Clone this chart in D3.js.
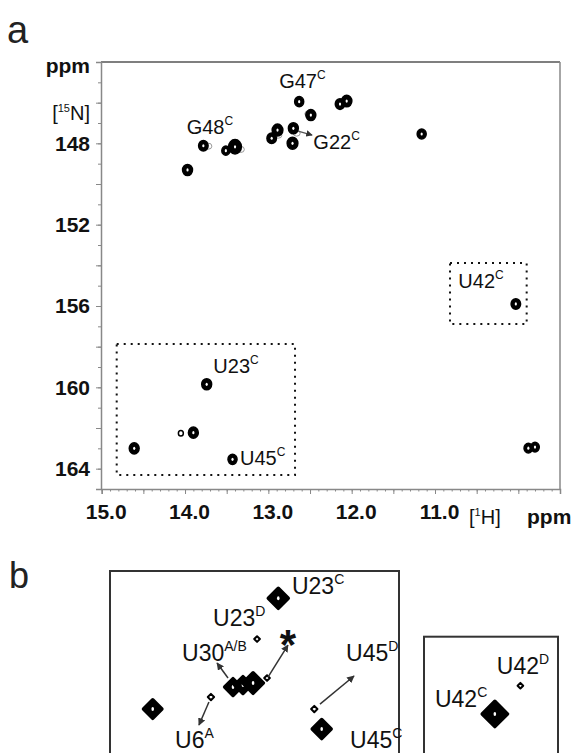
<!DOCTYPE html>
<html>
<head>
<meta charset="utf-8">
<script src="https://cdn.jsdelivr.net/npm/d3@7"></script>
<style>
  body { margin: 0; background: #fff; }
  svg { font-family: "Liberation Sans", Arial, sans-serif; }
</style>
</head>
<body>
<svg id="fig" width="573" height="753"></svg>
<script>
// ---- panel a: imino 1H-15N cross peaks (ppm) ----
var peakH   = [13.97, 13.78, 13.51, 13.40, 12.96, 12.89, 12.70, 12.71, 12.49, 12.63, 12.14, 12.06, 11.16, 10.03, 9.88, 9.80, 13.74, 13.90, 14.05, 14.61, 13.43];
var peakN   = [149.31, 148.12, 148.36, 148.17, 147.75, 147.35, 147.26, 148.00, 146.61, 145.95, 146.07, 145.92, 147.54, 155.90, 162.99, 162.94, 159.85, 162.23, 162.26, 163.00, 163.54];
var peakInt = [0.6, 0.55, 0.4, 1.0, 0.55, 0.7, 0.6, 0.7, 0.6, 0.5, 0.55, 0.65, 0.5, 0.55, 0.45, 0.45, 0.6, 0.6, 0.15, 0.6, 0.5];
// weak grey shoulders
var shoulderH = [13.72, 13.33, 12.88, 12.66, 12.52];
var shoulderN = [148.14, 148.30, 147.60, 147.50, 146.55];

// assignments in panel a
var labA      = ["G48", "G47", "G22", "U42", "U23", "U45"];
var labAChain = ["C", "C", "C", "C", "C", "C"];
var labAH     = [13.98, 12.87, 12.46, 10.72, 13.66, 13.34];
var labAN     = [147.54, 145.28, 148.28, 155.12, 159.30, 163.82];

// dotted boxes (ppm)
var boxH1 = [14.82, 12.68], boxN1 = [157.87, 164.31];
var boxH2 = [10.82, 9.90],  boxN2 = [153.89, 156.89];

var xTickLabels = [15.0, 14.0, 13.0, 12.0, 11.0];
var yTickLabels = [148, 152, 156, 160, 164];

// ---- panel b: expanded uridine region ----
var bPeakH   = [13.738, 13.887, 14.056, 13.986, 13.915, 13.817, 14.211, 14.620, 13.485, 13.433];
var bPeakN   = [159.867, 161.010, 162.358, 162.302, 162.246, 162.106, 162.639, 162.976, 162.976, 163.538];
var bPeakInt = [1.0, 0.08, 0.7, 0.7, 1.05, 0.08, 0.1, 0.85, 0.1, 0.9];
var bArrowFromH = [14.091, 13.810, 14.225, 13.445];
var bArrowFromN = [162.106, 162.077, 162.780, 162.836];
var bArrowToH   = [14.168, 13.670, 14.295, 13.206];
var bArrowToN   = [161.684, 161.179, 163.426, 162.049];
var labB      = ["U23", "U23", "U30", "U6", "U45", "U45"];
var labBChain = ["C", "D", "A/B", "A", "D", "C"];
var labBH     = [13.642, 14.196, 14.414, 14.463, 13.262, 13.234];
var labBN     = [159.746, 160.645, 161.628, 164.080, 161.628, 164.080];

// U42 inset
var cPeakH   = [10.031, 9.851];
var cPeakN   = [155.90, 155.106];
var cPeakInt = [1.6, 0.08];
var labC      = ["U42", "U42"];
var labCChain = ["D", "C"];
var labCH     = [10.017, 10.453];
var labCN     = [154.778, 155.705];

var svg = d3.select("#fig");

// ================= panel a =================
var x = d3.scaleLinear().domain([15, 9.5]).range([101.7, 560]);
var y = d3.scaleLinear().domain([144, 165]).range([62, 489]);
var r = d3.scaleSqrt().domain([0, 1]).range([0, 6.4]);

svg.append("text").attr("x", 7).attr("y", 43)
    .style("font-size", "38px").style("fill", "#222").text("a");

// frame top / right
svg.append("line").attr("x1", 101).attr("x2", 560).attr("y1", 62).attr("y2", 62)
    .attr("stroke", "#555").attr("stroke-width", 1.3);
svg.append("line").attr("x1", 560).attr("x2", 560).attr("y1", 62).attr("y2", 489)
    .attr("stroke", "#888").attr("stroke-width", 1.5);

// x axis
var xMinor = d3.range(95, 151).map(function(d) { return d / 10; });
var xMajor = d3.range(19, 31).map(function(d) { return d / 2; });
svg.append("g").attr("transform", "translate(0,489)")
    .call(d3.axisBottom(x).tickValues(xMinor).tickSize(2.5).tickFormat(""))
    .call(function(g) { g.select(".domain").remove(); });
var gx = svg.append("g").attr("class", "axis").attr("transform", "translate(0,489)")
    .call(d3.axisBottom(x).tickValues(xMajor).tickSize(5).tickPadding(10)
      .tickFormat(function(d) { return xTickLabels.indexOf(d) >= 0 ? d.toFixed(1) : ""; }));
gx.selectAll(".tick text").attr("dx", 4);

// y axis
var yMinor = d3.range(144, 166);
var yMajor = d3.range(144, 166, 2);
svg.append("g").attr("transform", "translate(101,0)")
    .call(d3.axisLeft(y).tickValues(yMinor).tickSize(3).tickFormat(""))
    .call(function(g) { g.select(".domain").remove(); });
var gy = svg.append("g").attr("class", "axis").attr("transform", "translate(101,0)")
    .call(d3.axisLeft(y).tickValues(yMajor).tickSize(5).tickPadding(6)
      .tickFormat(function(d) { return yTickLabels.indexOf(d) >= 0 ? d : ""; }));

svg.selectAll(".tick line").attr("stroke", "#888");
svg.selectAll(".axis .domain").attr("stroke", "#888").attr("stroke-width", 1.5);
svg.selectAll(".axis text")
    .style("font-size", "21px").style("font-weight", "bold")
    .style("font-family", "'Liberation Sans', Arial, sans-serif").attr("fill", "#111");

// axis unit labels
svg.append("text").attr("x", 90).attr("y", 73).attr("text-anchor", "end")
    .style("font-size", "21px").style("font-weight", "bold").attr("fill", "#111").text("ppm");
var n15 = svg.append("text").attr("x", 90).attr("y", 120).attr("text-anchor", "end")
    .style("font-size", "20px").attr("fill", "#111");
n15.append("tspan").text("[");
n15.append("tspan").attr("dy", -8).style("font-size", "11px").text("15");
n15.append("tspan").attr("dy", 8).text("N]");
var h1 = svg.append("text").attr("x", 469).attr("y", 524)
    .style("font-size", "20px").attr("fill", "#111");
h1.append("tspan").text("[");
h1.append("tspan").attr("dy", -8).style("font-size", "11px").text("1");
h1.append("tspan").attr("dy", 8).text("H]");
svg.append("text").attr("x", 527).attr("y", 524)
    .style("font-size", "21px").style("font-weight", "bold").attr("fill", "#111").text("ppm");

// dotted boxes
[[boxH1, boxN1], [boxH2, boxN2]].forEach(function(b) {
  svg.append("rect")
      .attr("x", x(b[0][0])).attr("y", y(b[1][0]))
      .attr("width", x(b[0][1]) - x(b[0][0])).attr("height", y(b[1][1]) - y(b[1][0]))
      .attr("fill", "none").attr("stroke", "#111").attr("stroke-width", 2)
      .attr("stroke-dasharray", "2,5");
});

// shoulders
svg.append("g").selectAll("ellipse").data(shoulderH).enter().append("ellipse")
    .attr("cx", function(d) { return x(d); })
    .attr("cy", function(d, i) { return y(shoulderN[i]); })
    .attr("rx", 3.5).attr("ry", 3)
    .attr("fill", "none").attr("stroke", "#999").attr("stroke-width", 1);

// peaks
var pk = svg.append("g").selectAll("g").data(peakH).enter().append("g")
    .attr("transform", function(d, i) { return "translate(" + x(d) + "," + y(peakN[i]) + ")"; });
pk.append("ellipse")
    .attr("rx", function(d, i) { return r(peakInt[i]); })
    .attr("ry", function(d, i) { return r(peakInt[i]) * 1.12; })
    .attr("fill", function(d, i) { return peakInt[i] < 0.3 ? "#fff" : "#000"; })
    .attr("stroke", "#000").attr("stroke-width", 1.5);
pk.append("ellipse")
    .attr("rx", function(d, i) { return peakInt[i] < 0.3 ? 0 : 1.1; })
    .attr("ry", function(d, i) { return peakInt[i] < 0.3 ? 0 : 1.6; })
    .attr("fill", "#fff");

// arrow head
svg.append("defs").append("marker").attr("id", "ah").attr("viewBox", "0 0 10 10")
    .attr("refX", 9).attr("refY", 5).attr("markerWidth", 5).attr("markerHeight", 5)
    .attr("orient", "auto")
  .append("path").attr("d", "M0,0L10,5L0,10Z").attr("fill", "#333");
svg.append("line")
    .attr("x1", x(12.643)).attr("y1", y(147.394)).attr("x2", x(12.475)).attr("y2", y(147.591))
    .attr("stroke", "#555").attr("stroke-width", 1.3).attr("marker-end", "url(#ah)");

function label(sel, px, py, main, sup, size, supSize, rise) {
  var t = sel.append("text").attr("x", px).attr("y", py)
      .style("font-size", size + "px").attr("fill", "#111");
  t.append("tspan").text(main);
  t.append("tspan").attr("dy", -rise).style("font-size", supSize + "px").text(sup);
}
labA.forEach(function(d, i) {
  label(svg, x(labAH[i]), y(labAN[i]), d, labAChain[i], 20, 12, 9);
});

// ================= panel b =================
svg.append("text").attr("x", 9).attr("y", 588)
    .style("font-size", "36px").style("fill", "#222").text("b");

var xb = d3.scaleLinear().domain([14.92, 12.89]).range([110, 399]);
var yb = d3.scaleLinear().domain([159.1, 164.21]).range([571, 753]);
var xc = d3.scaleLinear().domain([10.53, 9.586]).range([424, 558]);
var yc = d3.scaleLinear().domain([153.73, 156.996]).range([636.7, 753]);
var rb = d3.scaleSqrt().domain([0, 1]).range([0, 10]);

svg.append("rect").attr("x", 110).attr("y", 571).attr("width", 289).attr("height", 200)
    .attr("fill", "none").attr("stroke", "#333").attr("stroke-width", 2);
svg.append("rect").attr("x", 424).attr("y", 636.7).attr("width", 134).attr("height", 140)
    .attr("fill", "none").attr("stroke", "#333").attr("stroke-width", 2);

function drawBPeaks(hs, ns, ints, sx, sy) {
  var g = svg.append("g").selectAll("g").data(hs).enter().append("g")
      .attr("transform", function(d, i) { return "translate(" + sx(d) + "," + sy(ns[i]) + ")"; });
  g.append("path")
      .attr("d", function(d, i) {
        var s = rb(ints[i]);
        return "M0," + (-s) + "L" + s + ",0L0," + s + "L" + (-s) + ",0Z";
      })
      .attr("fill", function(d, i) { return ints[i] < 0.2 ? "#fff" : "#000"; })
      .attr("stroke", "#000").attr("stroke-width", function(d, i) { return ints[i] < 0.2 ? 2 : 3.5; })
      .attr("stroke-linejoin", "round");
  g.append("ellipse")
      .attr("rx", function(d, i) { return ints[i] < 0.2 ? 0 : 1.3; })
      .attr("ry", function(d, i) { return ints[i] < 0.2 ? 0 : 2; })
      .attr("fill", "#fff");
}
drawBPeaks(bPeakH, bPeakN, bPeakInt, xb, yb);
drawBPeaks(cPeakH, cPeakN, cPeakInt, xc, yc);

bArrowFromH.forEach(function(d, i) {
  svg.append("line")
      .attr("x1", xb(d)).attr("y1", yb(bArrowFromN[i]))
      .attr("x2", xb(bArrowToH[i])).attr("y2", yb(bArrowToN[i]))
      .attr("stroke", "#333").attr("stroke-width", 1.5).attr("marker-end", "url(#ah)");
});

svg.append("text").attr("x", xb(13.670)).attr("y", yb(160.898) + 24)
    .attr("text-anchor", "middle").style("font-size", "42px").style("font-weight", "bold")
    .attr("fill", "#111").text("*");

labB.forEach(function(d, i) {
  label(svg, xb(labBH[i]), yb(labBN[i]), d, labBChain[i], 23, 14, 10);
});
labC.forEach(function(d, i) {
  label(svg, xc(labCH[i]), yc(labCN[i]), d, labCChain[i], 23, 14, 10);
});
</script>
</body>
</html>
